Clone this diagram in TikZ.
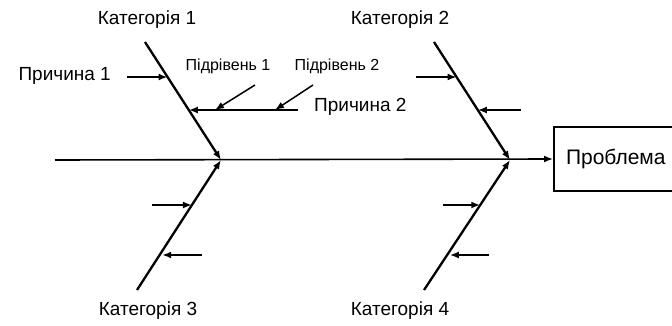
\documentclass[tikz,border=0pt]{standalone}
\usepackage{fontspec}
\setmainfont{Liberation Sans}
\usetikzlibrary{arrows.meta,calc}
\begin{document}
\begin{tikzpicture}[x=1pt,y=-1pt,
  bone/.style={line width=2.3pt},
  spine/.style={line width=1.6pt},
  cause/.style={line width=2pt,-{Latex[length=9pt,width=7pt]}},
  catlbl/.style={font=\fontsize{19}{21}\selectfont,inner sep=0pt},
  causelbl/.style={font=\fontsize{19}{21}\selectfont,inner sep=0pt},
  sublbl/.style={font=\fontsize{16}{18}\selectfont,inner sep=0pt},
  probbox/.style={draw,line width=2pt,minimum height=64pt,minimum width=150pt,
    text width=126pt,align=left,inner xsep=12pt,anchor=west,font=\fontsize{21}{23}\selectfont}]
\useasboundingbox (0,0) rectangle (672,326);
% main spine
\coordinate (s0) at (55,160);
\node[probbox] (prob) at (553,159) {Проблема};
\draw[spine,-{Latex[length=9pt,width=7pt]}] (s0) -- (prob.west);
% category bones
\coordinate (c1a) at (145,42);  \coordinate (c1b) at (221,160);
\coordinate (c2a) at (434,42);  \coordinate (c2b) at (510,160);
\coordinate (c3a) at (137,290); \coordinate (c3b) at (221,160);
\coordinate (c4a) at (424,290); \coordinate (c4b) at (510,160);
\draw[bone,-{Latex[length=9pt,width=7pt]}] (c1a) -- (c1b);
\draw[bone,-{Latex[length=9pt,width=7pt]}] (c2a) -- (c2b);
\draw[bone,-{Latex[length=9pt,width=7pt]}] (c3a) -- (c3b);
\draw[bone,-{Latex[length=9pt,width=7pt]}] (c4a) -- (c4b);
% labels
\node[catlbl] (k1) at (147,20) {Категорія 1};
\node[catlbl] (k2) at (400,20) {Категорія 2};
\node[catlbl] (k3) at (148,311) {Категорія 3};
\node[catlbl] (k4) at (400,311) {Категорія 4};
% points on bones
\coordinate (p11) at ($(c1a)!0.297!(c1b)$);
\coordinate (p12) at ($(c1a)!0.576!(c1b)$);
\coordinate (p21) at ($(c2a)!0.297!(c2b)$);
\coordinate (p22) at ($(c2a)!0.576!(c2b)$);
\coordinate (p31) at ($(c3a)!0.654!(c3b)$);
\coordinate (p32) at ($(c3a)!0.30!(c3b)$);
\coordinate (p41) at ($(c4a)!0.654!(c4b)$);
\coordinate (p42) at ($(c4a)!0.30!(c4b)$);
% category 1 causes
\node[causelbl,anchor=east] (r1) at (111,76) {Причина 1};
\coordinate (r1s) at (127,77);
\draw[cause] (r1s) -- (r1s -| p11);
\coordinate (r2s) at (298,110);
\draw[cause] (r2s) -- (r2s -| p12);
\node[causelbl,anchor=west] (r2) at (314,107) {Причина 2};
\node[sublbl] (sub1) at (228,66) {Підрівень 1};
\node[sublbl] (sub2) at (337,66) {Підрівень 2};
\coordinate (u1s) at (255,85); \coordinate (u1e) at (215,110);
\coordinate (u2s) at (313,85); \coordinate (u2e) at (275,110);
\draw[cause,line width=1.5pt] (u1s) -- (u1e);
\draw[cause,line width=1.5pt] (u2s) -- (u2e);
% category 2 causes
\coordinate (q1s) at (416,77);
\draw[cause] (q1s) -- (q1s -| p21);
\coordinate (q2s) at (521,110);
\draw[cause] (q2s) -- (q2s -| p22);
% category 3 causes
\coordinate (t1s) at (152,205);
\draw[cause] (t1s) -- (t1s -| p31);
\coordinate (t2s) at (202,255);
\draw[cause] (t2s) -- (t2s -| p32);
% category 4 causes
\coordinate (v1s) at (443,205);
\draw[cause] (v1s) -- (v1s -| p41);
\coordinate (v2s) at (489,255);
\draw[cause] (v2s) -- (v2s -| p42);
\end{tikzpicture}
\end{document}
